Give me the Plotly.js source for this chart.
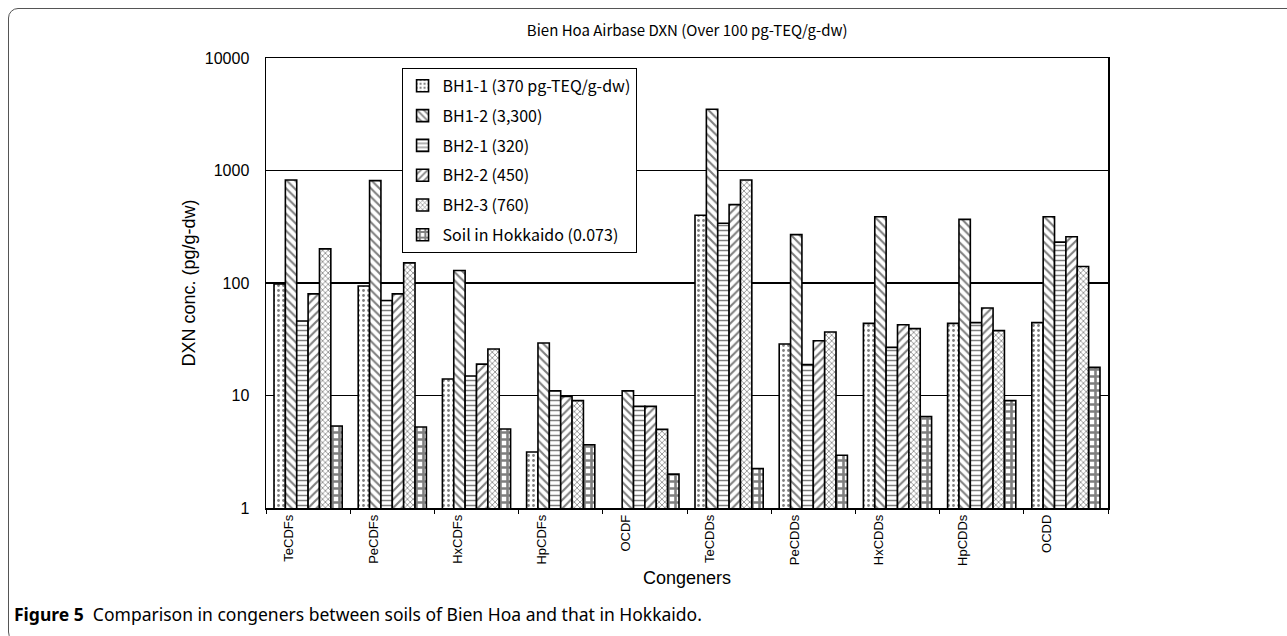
<!DOCTYPE html>
<html>
<head>
<meta charset="utf-8">
<script src="https://cdn.plot.ly/plotly-3.0.1.min.js"></script>
<style>
  html, body { margin: 0; padding: 0; background: #fff; }
  #wrap { position: relative; width: 1287px; height: 636px; overflow: hidden; }
  #chart { width: 1287px; height: 636px; }
  #frame { position: absolute; left: 8px; top: 8px; width: 1300px; height: 632px;
           border: 1px solid #555; border-radius: 10px; pointer-events: none; }
</style>
</head>
<body>
<div id="wrap">
  <div id="chart"></div>
  <div id="frame"></div>
</div>
<script>
const categories = ["TeCDFs", "PeCDFs", "HxCDFs", "HpCDFs", "OCDF", "TeCDDs", "PeCDDs", "HxCDDs", "HpCDDs", "OCDD"];
const seriesNames = ["BH1-1 (370 pg-TEQ/g-dw)", "BH1-2 (3,300)", "BH2-1 (320)", "BH2-2 (450)", "BH2-3 (760)", "Soil in Hokkaido (0.073)"];
const bh1_1 = [98, 94, 14, 3.15, null, 400, 28.7, 43.8, 43.8, 44.4];
const bh1_2 = [823, 812, 129, 29.3, 11, 3500, 269, 388, 368, 388];
const bh2_1 = [46, 70, 14.9, 11, 8, 340, 18.8, 26.8, 44.4, 231];
const bh2_2 = [80, 80, 19, 9.8, 8, 497, 30.7, 42.6, 60, 258];
const bh2_3 = [201, 151, 25.9, 9.0, 5, 823, 36.7, 39.3, 37.7, 140];
const hokkaido = [5.35, 5.25, 5.04, 3.65, 2.0, 2.24, 2.94, 6.5, 9.0, 17.8];
const yTickVals = [1, 10, 100, 1000, 10000];
const yTickText = ["1", "10", "100", "1000", "10000"];

const allSeries = [bh1_1, bh1_2, bh2_1, bh2_2, bh2_3, hokkaido];
const patterns = [
  {shape: ".", size: 5, solidity: 0.25},
  {shape: "\\", size: 6, solidity: 0.35},
  {shape: "-", size: 5, solidity: 0.3},
  {shape: "/", size: 6, solidity: 0.35},
  {shape: "x", size: 4, solidity: 0.35},
  {shape: "+", size: 7, solidity: 0.6}
];

const traces = allSeries.map((vals, i) => ({
  type: "bar",
  name: seriesNames[i],
  legendgroup: "g" + i,
  x: categories,
  y: vals,
  marker: {
    color: "#ffffff",
    line: {color: "#000000", width: 1.6},
    pattern: Object.assign({fgcolor: "#000000", bgcolor: "#ffffff", fillmode: "overlay"}, patterns[i])
  },
  hoverinfo: "x+y+name"
}));

const layout = {
  width: 1287, height: 636,
  margin: {l: 266, r: 179, t: 58, b: 128},
  paper_bgcolor: "#ffffff",
  plot_bgcolor: "#ffffff",
  barmode: "group",
  bargap: 0.19,
  bargroupgap: 0,
  font: {family: "Noto Sans CJK JP, DejaVu Sans, sans-serif", color: "#000"},
  title: {
    text: "Bien Hoa Airbase DXN (Over 100 pg-TEQ/g-dw)",
    font: {family: "Noto Sans CJK JP, sans-serif", size: 15, color: "#000"},
    x: 0.534, xanchor: "center", y: 0.951, yanchor: "middle"
  },
  xaxis: {
    type: "category",
    showline: true, linecolor: "#000", linewidth: 1.5, mirror: true,
    ticks: "outside", tickson: "boundaries", ticklen: 4, tickcolor: "#000",
    tickangle: -90,
    ticklabelshift: -19,
    tickfont: {family: "Liberation Sans, Arial, sans-serif", size: 13, color: "#000"},
    showgrid: false,
    title: {text: "Congeners", font: {family: "Liberation Sans, Arial, sans-serif", size: 18, color: "#000"}, standoff: 6}
  },
  yaxis: {
    type: "log",
    range: [0, 4],
    tickvals: yTickVals, ticktext: yTickText,
    showline: true, linecolor: "#000", linewidth: 1.5, mirror: true,
    ticks: "",
    showgrid: true, gridcolor: "#000", gridwidth: 1.2,
    tickfont: {family: "Liberation Sans, Arial, sans-serif", size: 16, color: "#000"},
    ticklabelstandoff: 12,
    title: {text: "DXN conc. (pg/g-dw)", font: {family: "Liberation Sans, Arial, sans-serif", size: 18, color: "#000"}, standoff: 4}
  },
  legend: {
    x: 0.161, y: 0.978, xanchor: "left", yanchor: "top",
    bgcolor: "#ffffff", bordercolor: "#000", borderwidth: 1,
    font: {family: "Noto Sans CJK JP, sans-serif", size: 16, color: "#000"},
    tracegroupgap: 6,
    itemwidth: 30,
    traceorder: "grouped"
  },
  annotations: [{
    xref: "paper", yref: "paper",
    x: -0.302, y: -0.236, xanchor: "left", yanchor: "middle",
    showarrow: false,
    text: "<b>Figure 5</b>  Comparison in congeners between soils of Bien Hoa and that in Hokkaido.",
    font: {family: "Noto Sans, Open Sans, sans-serif", size: 17.5, color: "#000"}
  }]
};

Plotly.newPlot("chart", traces, layout, {displayModeBar: false, staticPlot: true});
</script>
</body>
</html>
